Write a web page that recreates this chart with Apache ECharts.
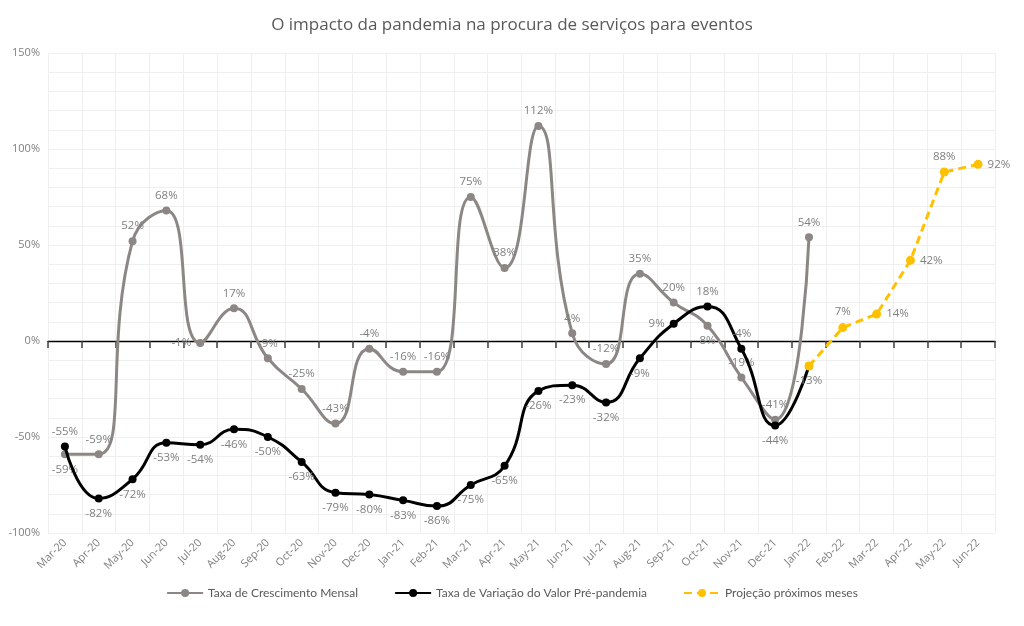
<!DOCTYPE html>
<html>
<head>
<meta charset="utf-8">
<script src="https://cdn.jsdelivr.net/npm/echarts@6/dist/echarts.min.js"></script>
<style>
html,body{margin:0;padding:0;background:#fff;}
#chart{width:1024px;height:626px;}
</style>
</head>
<body>
<div id="chart"></div>
<script>
// categorias (meses)
var months = ['Mar-20','Apr-20','May-20','Jun-20','Jul-20','Aug-20','Sep-20','Oct-20','Nov-20','Dec-20',
	'Jan-21','Feb-21','Mar-21','Apr-21','May-21','Jun-21','Jul-21','Aug-21','Sep-21','Oct-21','Nov-21','Dec-21',
	'Jan-22','Feb-22','Mar-22','Apr-22','May-22','Jun-22'];
// Taxa de Crescimento Mensal
var crescimento = [-59,-59,52,68,-1,17,-9,-25,-43,-4,-16,-16,75,38,112,4,-12,35,20,8,-19,-41,54,null,null,null,null,null];
// Taxa de Variação do Valor Pré-pandemia
var variacao = [-55,-82,-72,-53,-54,-46,-50,-63,-79,-80,-83,-86,-75,-65,-26,-23,-32,-9,9,18,-4,-44,-13,null,null,null,null,null];
// Projeção próximos meses
var projecao = [null,null,null,null,null,null,null,null,null,null,null,null,null,null,null,null,null,null,null,null,null,null,-13,7,14,42,88,92];
var yTicks = [-100,-50,0,50,100,150];

var gray = '#8c8784';
var yellow = '#ffc000';
var txt = '#7f7f7f';

function pct(p){ return p.value + '%'; }

// posições especiais de rótulos
var grayPos = {0:'bottom', 4:'left', 6:'top', 15:'top', 19:'bottom', 20:'top', 21:'top'};
var blackPos = {0:'top', 18:'left', 19:'top', 20:'top', 22:'bottom'};
var yellowPos = {23:'top', 24:'right', 25:'right', 26:'top', 27:'right'};

function build(arr, pos, def){
	return arr.map(function(v, i){
		if (v === null) return null;
		return {value: v, label: {position: pos[i] || def}};
	});
}

var gridTop = 53, gridBottom = 93, gridH = 626 - gridTop - gridBottom;
var yMin = -100, yMax = 150;
// eixo do zero: deslocamento a partir da base do grid
var zeroOffset = -gridH * (0 - yMin) / (yMax - yMin);

var chart = echarts.init(document.getElementById('chart'));
var option = {
	animation: false,
	title: {
		text: 'O impacto da pandemia na procura de serviços para eventos',
		left: 'center',
		top: 12,
		textStyle: {color: '#595959', fontSize: 17, fontWeight: 'normal', fontFamily: 'Open Sans'}
	},
	legend: {
		bottom: 22,
		itemGap: 36,
		itemWidth: 36,
		itemHeight: 10,
		textStyle: {color: '#595959', fontSize: 12, fontFamily: 'Lato'},
		data: ['Taxa de Crescimento Mensal','Taxa de Variação do Valor Pré-pandemia','Projeção próximos meses']
	},
	grid: {left: 48, right: 29, top: gridTop, bottom: gridBottom, containLabel: false},
	xAxis: [{
		type: 'category',
		data: months,
		boundaryGap: true,
		axisLine: {show: false, onZero: false},
		axisTick: {show: false},
		axisLabel: {rotate: 45, color: txt, fontSize: 11, fontFamily: 'Open Sans', interval: 0, margin: 8},
		splitLine: {show: true, interval: 0, lineStyle: {color: '#efefef'}}
	}, {
		type: 'category',
		data: months,
		boundaryGap: true,
		position: 'bottom',
		offset: zeroOffset,
		axisLine: {show: true, onZero: false, lineStyle: {color: '#000', width: 1.3}},
		axisTick: {show: true, inside: false, length: 7, interval: 0, lineStyle: {color: '#404040', width: 1.5}},
		axisLabel: {show: true, interval: 0, color: 'rgba(0,0,0,0)', fontSize: 1},
		splitLine: {show: false}
	}],
	yAxis: [{
		type: 'value',
		min: yMin,
		max: yMax,
		interval: 10,
		axisLine: {show: false},
		axisTick: {show: false},
		axisLabel: {
			color: txt, fontSize: 11, fontFamily: 'Open Sans',
			formatter: function(v){ return yTicks.indexOf(v) >= 0 ? v + '%' : ''; }
		},
		splitLine: {lineStyle: {color: '#efefef'}}
	}],
	series: [{
		name: 'Taxa de Crescimento Mensal',
		type: 'line',
		smooth: 0.5,
		data: build(crescimento, grayPos, 'top'),
		symbol: 'circle',
		symbolSize: 8,
		lineStyle: {color: gray, width: 3},
		itemStyle: {color: gray},
		label: {show: true, formatter: pct, color: txt, fontSize: 11.5, fontFamily: 'Open Sans'},
		z: 3
	}, {
		name: 'Taxa de Variação do Valor Pré-pandemia',
		type: 'line',
		smooth: 0.5,
		data: build(variacao, blackPos, 'bottom'),
		symbol: 'circle',
		symbolSize: 8,
		lineStyle: {color: '#000', width: 3},
		itemStyle: {color: '#000'},
		label: {show: true, formatter: pct, color: txt, fontSize: 11.5, fontFamily: 'Open Sans'},
		z: 4
	}, {
		name: 'Projeção próximos meses',
		type: 'line',
		smooth: false,
		data: build(projecao, yellowPos, 'top'),
		symbol: 'circle',
		symbolSize: 9,
		lineStyle: {color: yellow, width: 3, type: [8, 5]},
		itemStyle: {color: yellow},
		label: {show: true, formatter: function(p){ return p.dataIndex === 22 ? '' : p.value + '%'; }, color: txt, fontSize: 11.5, fontFamily: 'Open Sans'},
		z: 5
	}]
};
chart.setOption(option);
</script>
</body>
</html>
